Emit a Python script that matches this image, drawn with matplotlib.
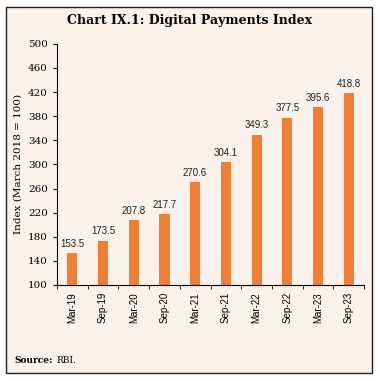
import numpy as np
import matplotlib.pyplot as plt
from matplotlib.patches import Rectangle

periods = ['Mar-19', 'Sep-19', 'Mar-20', 'Sep-20', 'Mar-21', 'Sep-21',
           'Mar-22', 'Sep-22', 'Mar-23', 'Sep-23']
index_vals = [153.5, 173.5, 207.8, 217.7, 270.6, 304.1, 349.3, 377.5, 395.6, 418.8]

bg = '#FAF1EA'
fig = plt.figure(figsize=(3.80, 3.81), dpi=100)
fig.patch.set_facecolor('white')
# framed panel behind the chart
fig.patches.append(Rectangle((6/380, 8/381), 366/380, 366/381, transform=fig.transFigure,
                             facecolor=bg, edgecolor='#222222', linewidth=1.0, zorder=-1))

ax = fig.add_axes([0.15, 0.252, 0.808, 0.633])
ax.set_facecolor(bg)
x = np.arange(len(periods))
ax.bar(x, index_vals, width=0.33, color='#F07F33')
for xi, v in zip(x, index_vals):
    ax.text(xi, v + 7, f'{v:.1f}', ha='center', va='bottom', fontsize=7,
            family='Liberation Sans', color='#222222')

ax.set_ylim(100, 500)
ax.set_yticks(range(100, 501, 40))
ax.set_xlim(-0.5, len(periods) - 0.5)
ax.set_xticks(x)
ax.set_xticklabels(periods, rotation=90, fontsize=7, family='Liberation Sans')
ax.set_xticks(np.arange(-0.5, len(periods), 1), minor=True)
ax.tick_params(axis='x', which='major', length=0, pad=5)
ax.tick_params(axis='x', which='minor', length=3, direction='out')
ax.tick_params(axis='y', labelsize=7.5, length=3, direction='out')
for lbl in ax.get_yticklabels():
    lbl.set_family('DejaVu Serif')
ax.spines['top'].set_visible(False)
ax.spines['right'].set_visible(False)
ax.set_ylabel('Index (March 2018 = 100)', fontsize=7.5, family='DejaVu Serif', labelpad=4)

fig.text(0.5, 0.945, 'Chart IX.1: Digital Payments Index', ha='center', va='center',
         fontsize=9, fontweight='bold', family='DejaVu Serif')
src = fig.text(0.037, 0.055, 'Source:', ha='left', va='center', fontsize=6.5,
               fontweight='bold', family='DejaVu Serif')
plt.annotate('RBI.', xy=(1, 0), xycoords=src, xytext=(3, 0), textcoords='offset points',
             ha='left', va='bottom', fontsize=6.5, family='DejaVu Serif')

fig.savefig('out.png', dpi=100, facecolor=fig.get_facecolor())
